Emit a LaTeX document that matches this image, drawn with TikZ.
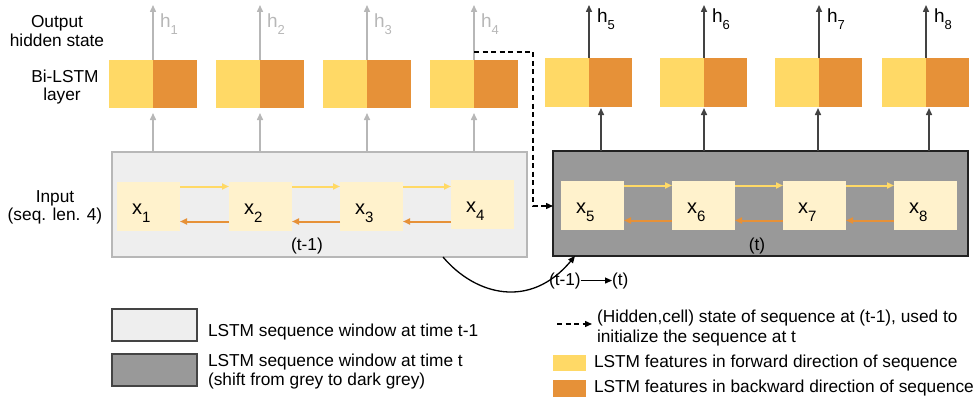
\documentclass[tikz,border=0pt]{standalone}
\usepackage{fontspec}
\setmainfont{Liberation Sans}
\usetikzlibrary{arrows.meta,calc}

\definecolor{fwd}{HTML}{FFD966}
\definecolor{bwd}{HTML}{E69138}
\definecolor{xfill}{HTML}{FFF2CC}
\definecolor{lgfill}{HTML}{EEEEEE}
\definecolor{lgline}{HTML}{B7B7B7}
\definecolor{dkfill}{HTML}{999999}
\definecolor{dkline}{HTML}{222222}
\definecolor{dkarrow}{HTML}{434343}
\definecolor{legline}{HTML}{444444}

% h_i and x_i labels with a lowered index
\newcommand\hlab[1]{{\fontsize{19}{19}\selectfont h\raisebox{-7pt}{\fontsize{13}{13}\selectfont #1}}}
\newcommand\xlab[1]{{\fontsize{20}{20}\selectfont x\raisebox{-8pt}{\fontsize{15}{15}\selectfont #1}}}

\begin{document}
\begin{tikzpicture}[x=1pt,y=-1pt,
  every node/.style={inner sep=0pt,outer sep=0pt},
  font=\fontsize{17.3}{20}\selectfont,
  tipstyle/.style={-{Triangle[length=7pt,width=6pt]}},
  fwdcell/.style={fill=fwd,minimum width=44pt,minimum height=48pt,anchor=north west},
  bwdcell/.style={fill=bwd,minimum width=44pt,minimum height=48pt,anchor=north west},
  xbox/.style={fill=xfill,minimum width=63pt,minimum height=49pt,anchor=north west},
  window/.style={line width=1.5pt,minimum width=415pt,minimum height=105pt,anchor=north west},
  greyarr/.style={tipstyle,draw=lgline,line width=1.5pt},
  darkarr/.style={tipstyle,draw=dkarrow,line width=1.5pt},
  fwdarr/.style={tipstyle,draw=fwd,line width=2pt},
  bwdarr/.style={tipstyle,draw=bwd,line width=2pt},
  blackarr/.style={tipstyle,draw=black,line width=1.3pt},
  dasharr/.style={tipstyle,draw=black,line width=1.3pt,dash pattern=on 5pt off 3.5pt},
  legbox/.style={draw=legline,line width=1.2pt,minimum width=85pt,minimum height=32pt,anchor=north west},
  swatch/.style={minimum width=33pt,minimum height=16pt,anchor=north west},
  lbl/.style={anchor=base},
  ltxt/.style={anchor=base west}
]
\useasboundingbox (0,0) rectangle (975,404);

% row labels
\node[lbl] (o1) at (57,28) {Output};
\node[lbl] (o2) at (57,47) {hidden state};
\node[lbl] (bl1) at (65,82) {Bi-LSTM};
\node[lbl] (bl2) at (62,100) {layer};
\node[lbl] (in1) at (55,202) {Input};
\node[lbl] (in2) at (55,220) {(seq. len. 4)};

% sequence windows
\node[window,draw=lgline,fill=lgfill] (L) at (112,152) {};
\node[window,draw=dkline,fill=dkfill] (R) at (553,151) {};

% Bi-LSTM cells of window t-1
\foreach \i/\x in {1/109,2/216,3/323,4/430} {
  \node[fwdcell] (f\i) at (\x,60) {};
  \node[bwdcell] (b\i) at (f\i.north east) {};
  \coordinate (ht\i) at (\x+44,5);
  \draw[greyarr] (f\i.north east) -- (ht\i);
  \node[ltxt,text=lgline] (h\i) at (\x+51,28) {\hlab{\i}};
  \draw[greyarr] (f\i.south east |- L.north) -- ([yshift=-5pt]f\i.south east);
}

% Bi-LSTM cells of window t
\foreach \i/\x/\dx in {5/545/12,6/660/0,7/775/-1,8/882/3} {
  \node[fwdcell,minimum height=49pt] (f\i) at (\x,58) {};
  \node[bwdcell,minimum height=49pt,minimum width=43pt] (b\i) at (f\i.north east) {};
  \coordinate (ht\i) at (\x+44,5);
  \draw[darkarr] (f\i.north east) -- (ht\i);
  \node[ltxt] (h\i) at (\x+52,23) {\hlab{\i}};
  \coordinate (ut\i) at ([xshift=\dx pt,yshift=-1pt]f\i.south east);
  \draw[darkarr] (ut\i |- R.north) -- (ut\i);
}

% inputs of window t-1
\foreach \i/\x/\y in {1/117/182,2/229/182,3/340/182,4/451/180} {
  \node[xbox] (x\i) at (\x,\y) {};
  \node[ltxt] (lx\i) at ([shift={(15pt,-7.5pt)}]x\i.west) {\xlab{\i}};
}
% inputs of window t
\foreach \i/\x in {5/561,6/672,7/783,8/894} {
  \node[xbox] (x\i) at (\x,181) {};
  \node[ltxt] (lx\i) at ([shift={(15pt,-7.5pt)}]x\i.west) {\xlab{\i}};
}

% forward / backward links, kept horizontal
\foreach \a/\b in {1/2,2/3,3/4,5/6,6/7,7/8} {
  \coordinate (fa\a) at ([yshift=20pt]x\a.east);
  \coordinate (ba\a) at ([yshift=-15pt]x\a.east);
  \draw[fwdarr] (fa\a) -- (fa\a -| x\b.west);
  \draw[bwdarr] (ba\a -| x\b.west) -- (ba\a);
}

\node[lbl] (tl) at (307,250) {(t-1)};
\node[lbl] (tr) at (757,250) {(t)};

% state handed from window t-1 to window t
\coordinate (d0) at (474,52);
\coordinate (d1) at (533,206);
\draw[dasharr] (d0) -| (d1) -- (d1 -| R.west);

% window shift
\coordinate (c0) at (443,257);
\coordinate (c1) at (575,256);
\draw[blackarr] (c0) .. controls (475,295) and (530,310) .. (c1);
\node[ltxt] (sh1) at (549,285) {(t-1)};
\node[ltxt] (sh2) at (612,285) {(t)};
\draw[blackarr] (sh1.east) -- (sh2.west);

% legend
\node[legbox,fill=lgfill] (lg1) at (112,309) {};
\node[legbox,fill=dkfill] (lg2) at (112,354) {};
\node[ltxt] (lt1) at (208,336) {LSTM sequence window at time t-1};
\node[ltxt] (lt2) at (208,366) {LSTM sequence window at time t};
\node[ltxt] (lt3) at (208,385) {(shift from grey to dark grey)};

\coordinate (la0) at (557,324);
\coordinate (la1) at (592,324);
\draw[dasharr] (la0) -- (la1);
\node[ltxt] (lt4) at (597,322) {(Hidden,cell) state of sequence at (t-1), used to};
\node[ltxt] (lt5) at (597,342) {initialize the sequence at t};
\node[swatch,fill=fwd] (sw1) at (553,355) {};
\node[ltxt] (lt6) at (594,367) {LSTM features in forward direction of sequence};
\node[swatch,fill=bwd,minimum height=17pt] (sw2) at (553,380) {};
\node[ltxt] (lt7) at (594,392) {LSTM features in backward direction of sequence};
\end{tikzpicture}
\end{document}
